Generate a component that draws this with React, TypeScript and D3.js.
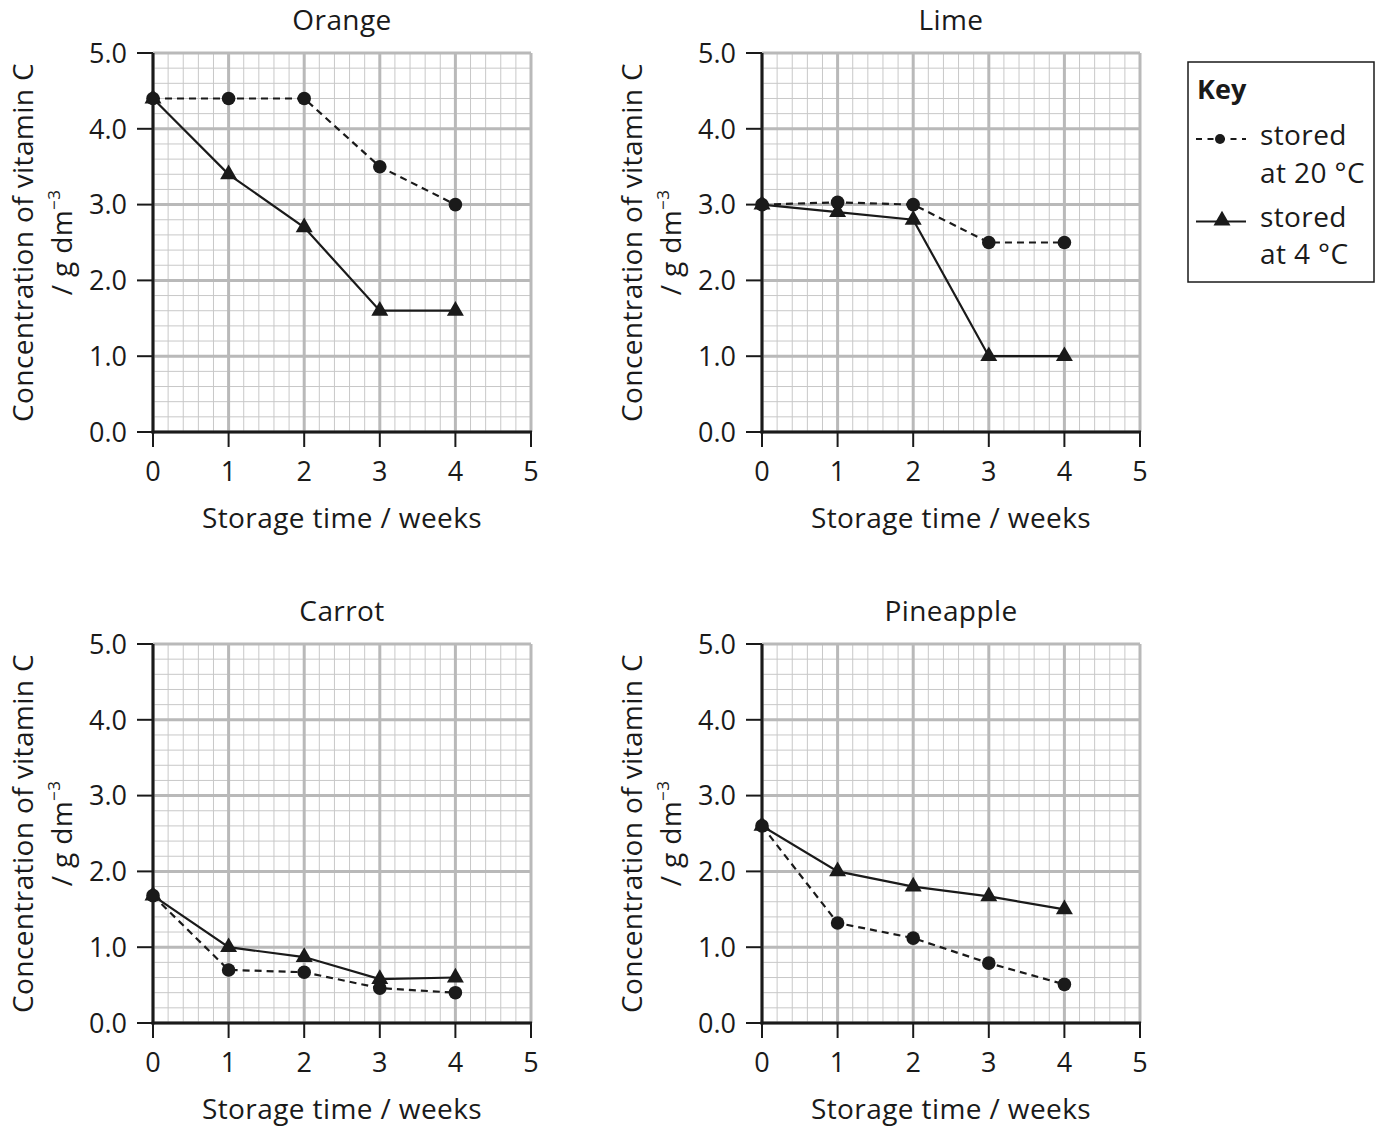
import React from "react";
import * as d3 from "d3";

const weeks = [0, 1, 2, 3, 4];
const xTicks = [0, 1, 2, 3, 4, 5];
const yTicks = [0, 1, 2, 3, 4, 5];

const orange20 = [4.4, 4.4, 4.4, 3.5, 3.0];
const orange4 = [4.4, 3.4, 2.7, 1.6, 1.6];
const lime20 = [3.0, 3.03, 3.0, 2.5, 2.5];
const lime4 = [3.0, 2.9, 2.8, 1.0, 1.0];
const carrot20 = [1.68, 0.7, 0.67, 0.46, 0.4];
const carrot4 = [1.68, 1.0, 0.87, 0.58, 0.6];
const pineapple20 = [2.6, 1.32, 1.12, 0.79, 0.51];
const pineapple4 = [2.6, 2.0, 1.8, 1.67, 1.5];

const panels = [
  { title: "Orange", warm: orange20, cold: orange4, left: 153, bottom: 432 },
  { title: "Lime", warm: lime20, cold: lime4, left: 762, bottom: 432 },
  { title: "Carrot", warm: carrot20, cold: carrot4, left: 153, bottom: 1023 },
  { title: "Pineapple", warm: pineapple20, cold: pineapple4, left: 762, bottom: 1023 },
];

const FONT = "'Open Sans', 'Noto Sans', sans-serif";
const INK = "#1a1a1a";
const W = 378;
const H = 379;

const triangle = d3.symbol(d3.symbolTriangle, 125)();

function Panel({ title, warm, cold, left, bottom }) {
  const x = d3.scaleLinear().domain([0, 5]).range([0, W]);
  const y = d3.scaleLinear().domain([0, 5]).range([H, 0]);
  const minor = d3.range(0, 5.001, 0.2).map(v => +v.toFixed(1));

  const line = d3.line<number>()
    .x((_, i) => x(weeks[i]))
    .y(d => y(d));

  return (
    <g transform={`translate(${left},${bottom - H})`}>
      {/* minor grid, 0.2 steps */}
      {minor.map(v => (
        <g key={"m" + v}>
          <line x1={x(v)} x2={x(v)} y1={0} y2={H} stroke="#c8c8c8" strokeWidth={1} />
          <line x1={0} x2={W} y1={y(v)} y2={y(v)} stroke="#c8c8c8" strokeWidth={1} />
        </g>
      ))}
      {/* major grid */}
      {xTicks.map(v => (
        <g key={"M" + v}>
          <line x1={x(v)} x2={x(v)} y1={0} y2={H} stroke="#b9b9b9" strokeWidth={3} />
          <line x1={0} x2={W} y1={y(v)} y2={y(v)} stroke="#b9b9b9" strokeWidth={3} />
        </g>
      ))}
      {/* axes */}
      <line x1={0} x2={0} y1={0} y2={H + 1.5} stroke={INK} strokeWidth={3} />
      <line x1={-1.5} x2={W + 1} y1={H} y2={H} stroke={INK} strokeWidth={3} />
      {yTicks.map(v => (
        <g key={"yt" + v}>
          <line x1={-16} x2={0} y1={y(v)} y2={y(v)} stroke={INK} strokeWidth={2} />
          <text x={-26} y={y(v)} dy="0.36em" textAnchor="end" fontSize={27} fontFamily={FONT} fill={INK}>
            {v.toFixed(1)}
          </text>
        </g>
      ))}
      {xTicks.map(v => (
        <g key={"xt" + v}>
          <line x1={x(v)} x2={x(v)} y1={H} y2={H + 15} stroke={INK} strokeWidth={2} />
          <text x={x(v)} y={H + 49} textAnchor="middle" fontSize={27} fontFamily={FONT} fill={INK}>
            {v}
          </text>
        </g>
      ))}
      <text x={W / 2} y={-23.5} textAnchor="middle" fontSize={28} letterSpacing={0.4} fontFamily={FONT} fill={INK}>
        {title}
      </text>
      <text x={W / 2} y={H + 96} textAnchor="middle" fontSize={28} letterSpacing={0.4} fontFamily={FONT} fill={INK}>
        Storage time / weeks
      </text>
      <g transform={`translate(-130,${H / 2}) rotate(-90)`} fontFamily={FONT} fontSize={28} letterSpacing={0.4} fill={INK}>
        <text x={0} y={0} dy="0.35em" textAnchor="middle">Concentration of vitamin C</text>
        <text x={0} y={39} dy="0.35em" textAnchor="middle">
          / g dm<tspan fontSize={17} dy={-12}>−3</tspan>
        </text>
      </g>
      {/* series */}
      <path d={line(warm) || ""} fill="none" stroke={INK} strokeWidth={2.2} strokeDasharray="7,5" />
      <path d={line(cold) || ""} fill="none" stroke={INK} strokeWidth={2.2} />
      {cold.map((v, i) => (
        <path key={"t" + i} d={triangle} transform={`translate(${x(weeks[i])},${y(v)})`} fill={INK} />
      ))}
      {warm.map((v, i) => (
        <circle key={"c" + i} cx={x(weeks[i])} cy={y(v)} r={6.8} fill={INK} />
      ))}
    </g>
  );
}

function Key() {
  return (
    <g fontFamily={FONT} fill={INK}>
      <rect x={1188} y={62} width={186} height={220} fill="white" stroke={INK} strokeWidth={1.5} />
      <text x={1197} y={99} fontSize={27} fontWeight="bold">Key</text>
      <line x1={1196} x2={1246} y1={139} y2={139} stroke={INK} strokeWidth={2.2} strokeDasharray="6,5.5" />
      <circle cx={1220} cy={139} r={5} fill={INK} />
      <text x={1260} y={145} fontSize={28} letterSpacing={0.4}>stored</text>
      <text x={1260} y={183} fontSize={28} letterSpacing={0.4}>at 20 °C</text>
      <line x1={1196} x2={1246} y1={221.5} y2={221.5} stroke={INK} strokeWidth={2.2} />
      <path d={triangle} transform="translate(1222,220.5)" fill={INK} />
      <text x={1260} y={227} fontSize={28} letterSpacing={0.4}>stored</text>
      <text x={1260} y={264} fontSize={28} letterSpacing={0.4}>at 4 °C</text>
    </g>
  );
}

export default function App() {
  return (
    <svg width={1383} height={1131} style={{ position: "absolute", left: 0, top: 0, background: "white" }}>
      <rect width={1383} height={1131} fill="white" />
      {panels.map(p => (
        <Panel key={p.title} {...p} />
      ))}
      <Key />
    </svg>
  );
}
